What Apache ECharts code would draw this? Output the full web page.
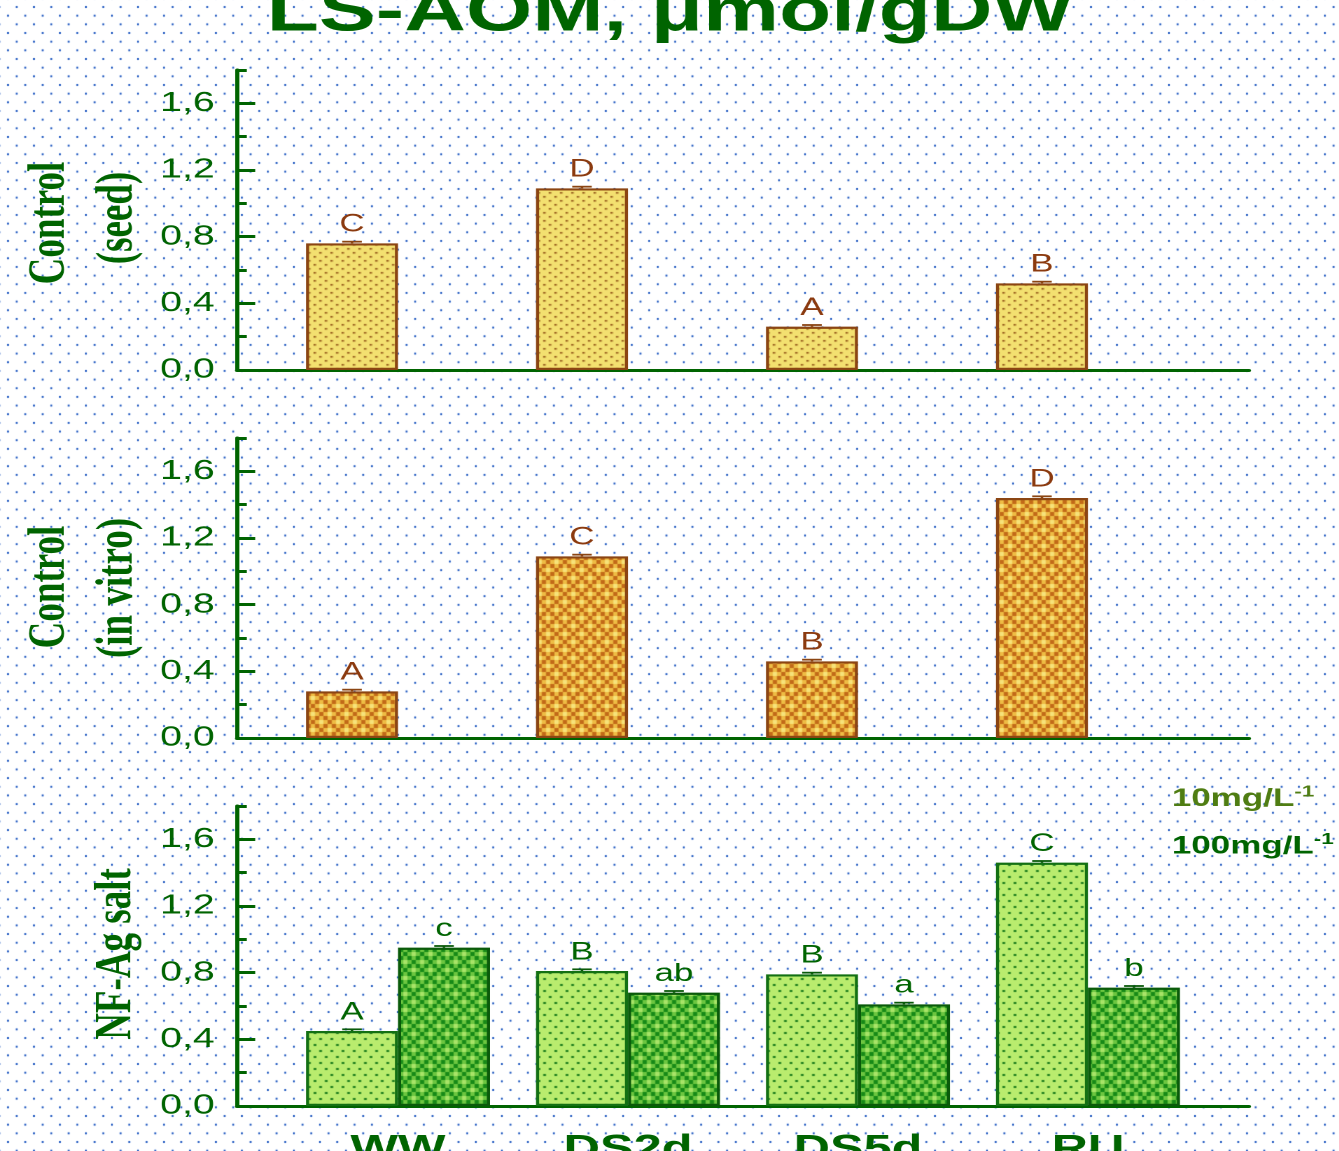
<!DOCTYPE html>
<html>
<head>
<meta charset="utf-8">
<title>LS-AOM</title>
<script src="https://cdn.jsdelivr.net/npm/echarts@6/dist/echarts.min.js"></script>
<style>
html, body { margin: 0; height: 100%; overflow: hidden; }
body {
  background-color: #fff;
  background-image:
    radial-gradient(circle, #4a78cc 0, #4a78cc 0.9px, rgba(74,120,204,0) 1.6px),
    radial-gradient(circle, #4a78cc 0, #4a78cc 0.9px, rgba(74,120,204,0) 1.6px);
  background-size: 17.33px 17.33px;
  background-position: 8px -1.66px, 16.67px 7px;
}
/* the original figure is stretched sideways, so draw narrow and stretch */
#chart { width: 957px; height: 1151px; transform: scaleX(1.4); transform-origin: 0 0; }
</style>
</head>
<body>
<div id="chart"></div>
<script>
const groups = ['WW', 'DS2d', 'DS5d', 'RU'];

const seedValues = [0.76, 1.09, 0.26, 0.52];
const seedErr = [0.01, 0.01, 0.01, 0.01];
const seedLetters = ['C', 'D', 'A', 'B'];

const vitroValues = [0.28, 1.09, 0.46, 1.44];
const vitroErr = [0.01, 0.01, 0.01, 0.01];
const vitroLetters = ['A', 'C', 'B', 'D'];

const salt10Values = [0.45, 0.81, 0.79, 1.46];
const salt10Err = [0.01, 0.01, 0.01, 0.01];
const salt10Letters = ['A', 'B', 'B', 'C'];

const salt100Values = [0.95, 0.68, 0.61, 0.71];
const salt100Err = [0.01, 0.01, 0.01, 0.01];
const salt100Letters = ['c', 'ab', 'a', 'b'];

const yTicks = [0, 0.4, 0.8, 1.2, 1.6];
const yMinorTicks = [0.2, 0.6, 1.0, 1.4, 1.8];

const GREEN = '#006400';
const BROWN = '#8b4513';
const SANS = '"Liberation Sans", Arial, sans-serif';
const SERIF = '"Liberation Serif", "Times New Roman", serif';

function tile(w, h, draw) {
  const c = document.createElement('canvas');
  c.width = w; c.height = h;
  draw(c.getContext('2d'));
  return { image: c, repeat: 'repeat' };
}
function dots(bg, fg, w, h, dw, dh) {
  return tile(w, h, g => {
    g.fillStyle = bg; g.fillRect(0, 0, w, h);
    g.fillStyle = fg;
    g.fillRect(0, 0, dw, dh);
    g.fillRect(w / 2, h / 2, dw, dh);
  });
}
function checker(dark, light, cross) {
  return tile(12, 16, g => {
    for (let i = 0; i < 4; i++) {
      for (let j = 0; j < 4; j++) {
        g.fillStyle = (i + j) % 2 ? light : dark;
        g.fillRect(i * 3, j * 4, 3, 4);
      }
    }
    g.fillStyle = cross;
    g.fillRect(0, 0, 3, 4);
    g.fillRect(6, 8, 3, 4);
  });
}

const seedFill = dots('#f3e070', '#8a4a12', 8, 8, 1.6, 1.6);
const vitroFill = checker('#c26a18', '#eebc44', '#f6e27a');
const salt10Fill = dots('#b9ec6e', '#1f7f1f', 8, 12, 2, 2);
const salt100Fill = checker('#178a17', '#6cc640', '#a8e468');

const tops = [70, 438, 806];
const BAR_W = 65.7;
const HALF = 0.2;

const grids = tops.map(t => ({ left: 169.3, right: 64.9, top: t, height: 300, outerBoundsMode: 'none', containLabel: false }));

const xAxes = tops.map((t, k) => ({
  type: 'value', gridIndex: k, min: -0.7, max: 3.7,
  splitLine: { show: false },
  axisTick: { show: false },
  axisLine: { lineStyle: { color: GREEN, width: 3 } },
  axisLabel: k === 2 ? {
    customValues: [0, 1, 2, 3],
    formatter: v => groups[Math.round(v)],
    fontSize: 36, fontWeight: 'bold', color: GREEN, fontFamily: SANS, margin: 26
  } : { show: false }
}));

const yAxes = [];
tops.forEach((t, k) => {
  yAxes.push({
    type: 'value', gridIndex: k, min: 0, max: 1.8,
    splitLine: { show: false },
    axisLine: { show: true, onZero: false, lineStyle: { color: GREEN, width: 3 } },
    axisTick: { show: true, inside: true, length: 13, customValues: yTicks, lineStyle: { color: GREEN, width: 3 } },
    axisLabel: {
      customValues: yTicks,
      formatter: v => v.toFixed(1).replace('.', ','),
      fontSize: 28, color: GREEN, fontFamily: SANS, margin: 16
    }
  });
  yAxes.push({
    type: 'value', gridIndex: k, min: 0, max: 1.8, position: 'left',
    splitLine: { show: false },
    axisLine: { show: false, onZero: false },
    axisLabel: { show: false },
    axisTick: { show: true, inside: true, length: 7, customValues: yMinorTicks, lineStyle: { color: GREEN, width: 3 } }
  });
});

function barSeries(name, k, xs, values, letters, fill, border, labelColor) {
  return {
    name: name, type: 'bar', xAxisIndex: k, yAxisIndex: k * 2,
    data: values.map((v, i) => [xs[i], v]),
    barWidth: BAR_W, barGap: '0%',
    itemStyle: { color: fill, borderColor: border, borderWidth: 2.2 },
    label: {
      show: true, position: 'top', distance: 6,
      formatter: p => letters[p.dataIndex],
      fontSize: 25, color: labelColor, fontFamily: SANS
    }
  };
}
function errSeries(k, xs, values, errs, color) {
  return {
    type: 'custom', xAxisIndex: k, yAxisIndex: k * 2, z: 5,
    data: values.map((v, i) => [xs[i], v, errs[i]]),
    encode: { x: 0, y: 1 },
    renderItem: (params, api) => {
      const x = api.value(0), v = api.value(1), e = api.value(2);
      const p0 = api.coord([x, v]);
      const p1 = api.coord([x, v + e]);
      const st = { stroke: color, lineWidth: 1.8 };
      return {
        type: 'group', children: [
          { type: 'line', shape: { x1: p0[0], y1: p0[1], x2: p1[0], y2: p1[1] }, style: st },
          { type: 'line', shape: { x1: p1[0] - 7, y1: p1[1], x2: p1[0] + 7, y2: p1[1] }, style: st }
        ]
      };
    }
  };
}

const leftX = groups.map((g, i) => i - HALF);
const rightX = groups.map((g, i) => i + HALF);
const midX = groups.map((g, i) => i);

const series = [
  barSeries('seed', 0, leftX, seedValues, seedLetters, seedFill, BROWN, '#8b3a0f'),
  errSeries(0, leftX, seedValues, seedErr, BROWN),
  barSeries('vitro', 1, leftX, vitroValues, vitroLetters, vitroFill, BROWN, '#8b3a0f'),
  errSeries(1, leftX, vitroValues, vitroErr, BROWN),
  barSeries('10mg/L', 2, midX, salt10Values, salt10Letters, salt10Fill, '#137013', GREEN),
  barSeries('100mg/L', 2, midX, salt100Values, salt100Letters, salt100Fill, '#0a5a0a', GREEN),
  errSeries(2, leftX, salt10Values, salt10Err, '#0a5a0a'),
  errSeries(2, rightX, salt100Values, salt100Err, '#0a5a0a')
];

function sideText(text, x, y) {
  return {
    type: 'text', x: x, y: y, rotation: Math.PI / 2,
    style: { text: text, fontSize: 37, fontWeight: 'bold', fontFamily: SERIF, fill: GREEN, align: 'center', verticalAlign: 'middle' }
  };
}

const chart = echarts.init(document.getElementById('chart'), null, { devicePixelRatio: 2 });
chart.setOption({
  animation: false,
  title: {
    text: 'LS-AOM, μmol/gDW', left: 'center', top: -22,
    textStyle: { fontSize: 61, fontWeight: 'bold', color: GREEN, fontFamily: SANS }
  },
  legend: {
    orient: 'vertical', left: 826, top: 779, itemWidth: 0, itemHeight: 0, itemGap: 20,
    selectedMode: false,
    data: [
      { name: '10mg/L', textStyle: { color: '#4f7d12' } },
      { name: '100mg/L', textStyle: { color: GREEN } }
    ],
    formatter: n => '{t|' + n + '}{s|-1}',
    textStyle: {
      fontFamily: SANS, fontWeight: 'bold', fontSize: 25,
      rich: {
        t: { fontSize: 25, fontWeight: 'bold', fontFamily: SANS },
        s: { fontSize: 16, fontWeight: 'bold', fontFamily: SANS, padding: [0, 0, 14, 0] }
      }
    }
  },
  grid: grids,
  xAxis: xAxes,
  yAxis: yAxes,
  series: series,
  graphic: [
    sideText('Control', 35.7, 223),
    sideText('(seed)', 84.3, 218),
    sideText('Control', 35.7, 587),
    sideText('(in vitro)', 84.3, 588),
    sideText('NF-Ag salt', 83.6, 954)
  ]
});
</script>
</body>
</html>
